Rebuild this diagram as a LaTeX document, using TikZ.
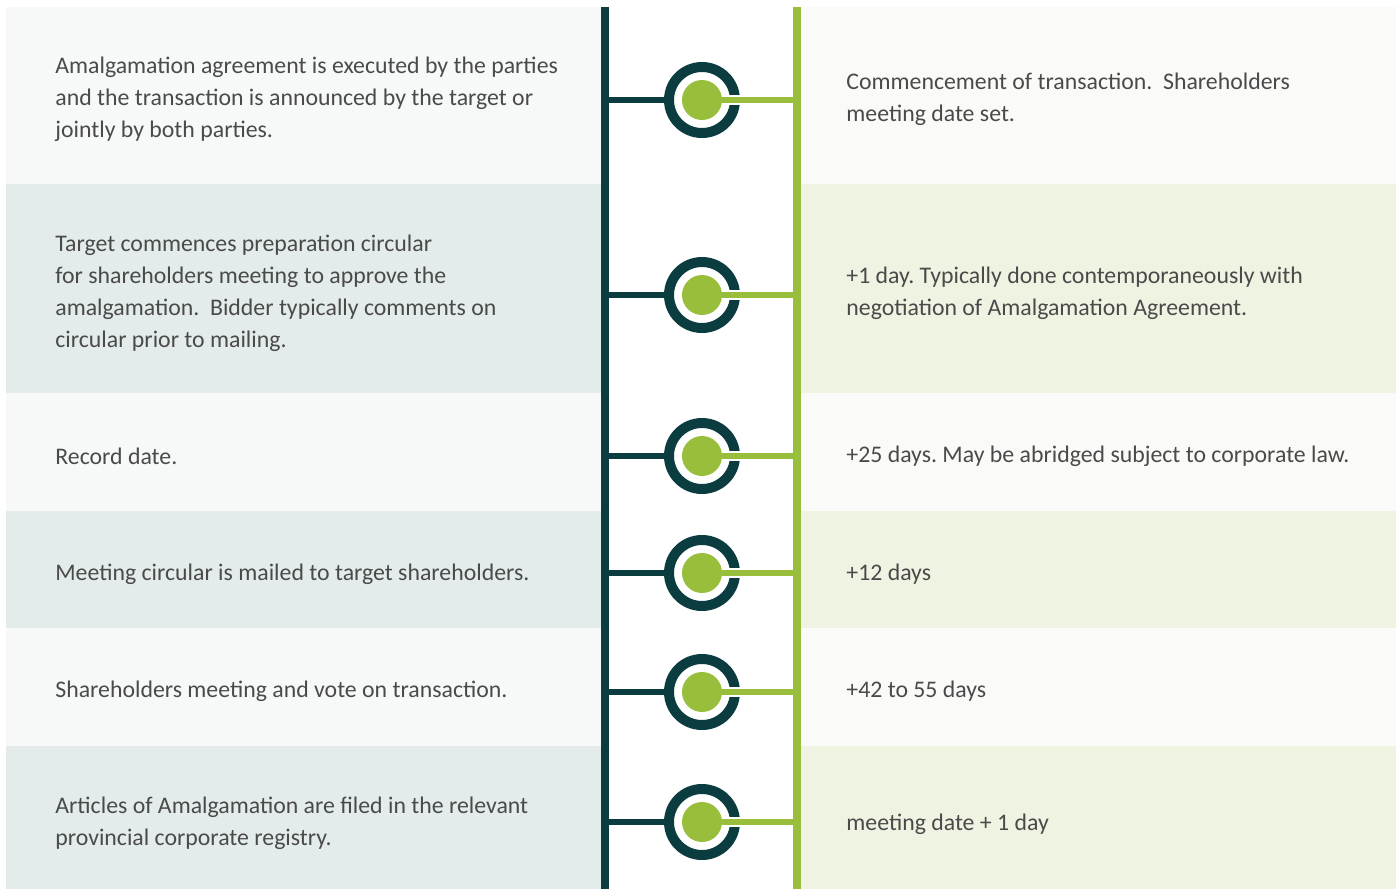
\documentclass[tikz,border=0pt]{standalone}
\usepackage{fontspec}
\setmainfont{Carlito}
\frenchspacing
\definecolor{teal}{HTML}{0B3C40}
\definecolor{leaf}{HTML}{98BE3C}
\definecolor{ink}{HTML}{4A4A4A}
\definecolor{leftA}{HTML}{F7F9F9}
\definecolor{leftB}{HTML}{E3ECEB}
\definecolor{rightA}{HTML}{FAFAF8}
\definecolor{rightB}{HTML}{EFF3E2}
\tikzset{
  txt/.style={anchor=west,align=left,inner sep=0pt,text=ink,
    font=\fontsize{11.9pt}{16pt}\selectfont},
  hole/.style={circle,fill=white,minimum size=30pt,inner sep=0pt},
  ring/.style={circle,draw=teal,line width=5pt,minimum size=33pt,inner sep=0pt},
  dot/.style={circle,fill=leaf,minimum size=20pt,inner sep=0pt},
  tealline/.style={draw=teal,line width=3pt},
  leafline/.style={draw=leaf,line width=3pt}
}
\begin{document}
\begin{tikzpicture}[x=0.5pt,y=-0.5pt]
\useasboundingbox (0,0) rectangle (1397,889);
% row bands
\fill[leftA] (6,7) rectangle (601,184);
\fill[leftB] (6,184) rectangle (601,393);
\fill[leftA] (6,393) rectangle (601,511);
\fill[leftB] (6,511) rectangle (601,628);
\fill[leftA] (6,628) rectangle (601,746);
\fill[leftB] (6,746) rectangle (601,889);
\fill[rightA] (801,7) rectangle (1396,184);
\fill[rightB] (801,184) rectangle (1396,393);
\fill[rightA] (801,393) rectangle (1396,511);
\fill[rightB] (801,511) rectangle (1396,628);
\fill[rightA] (801,628) rectangle (1396,746);
\fill[rightB] (801,746) rectangle (1396,889);
% the two rails
\draw[teal,line width=4pt] (605,7)--(605,889);
\draw[leaf,line width=4pt] (797,7)--(797,889);
% markers
\foreach \y/\n in {100/1,295/2,456/3,573/4,692/5,822/6}{
  \coordinate (a\n) at (605,\y);
  \coordinate (b\n) at (797,\y);
  \node[hole] (h\n) at (702,\y) {};
  \draw[tealline] (a\n) -- (h\n.west);
  \node[ring] (c\n) at (702,\y) {};
  \fill[white] (c\n.east) ++(-14,-5) rectangle ++(16,10);
  \node[dot] (d\n) at (702,\y) {};
  \draw[leafline] (d\n.east) -- (b\n);
}
% left column
\node[txt] (l1) at (55,99) {Amalgamation agreement is executed by the parties\\and the transaction is announced by the target or\\jointly by both parties.};
\node[txt] (l2) at (55,293) {Target commences preparation circular\\for shareholders meeting to approve the\\amalgamation.\ \ Bidder typically comments on\\circular prior to mailing.};
\node[txt] (l3) at (55,456) {Record date.};
\node[txt] (l4) at (55,574) {Meeting circular is mailed to target shareholders.};
\node[txt] (l5) at (55,691) {Shareholders meeting and vote on transaction.};
\node[txt] (l6) at (55,823) {Articles of Amalgamation are filed in the relevant\\provincial corporate registry.};
% right column
\node[txt] (r1) at (846,99) {Commencement of transaction.\ \ Shareholders\\meeting date set.};
\node[txt] (r2) at (846,293) {+1 day. Typically done contemporaneously with\\negotiation of Amalgamation Agreement.};
\node[txt] (r3) at (846,456) {+25 days. May be abridged subject to corporate law.};
\node[txt] (r4) at (846,574) {+12 days};
\node[txt] (r5) at (846,691) {+42 to 55 days};
\node[txt] (r6) at (846,824) {meeting date + 1 day};
\end{tikzpicture}
\end{document}
